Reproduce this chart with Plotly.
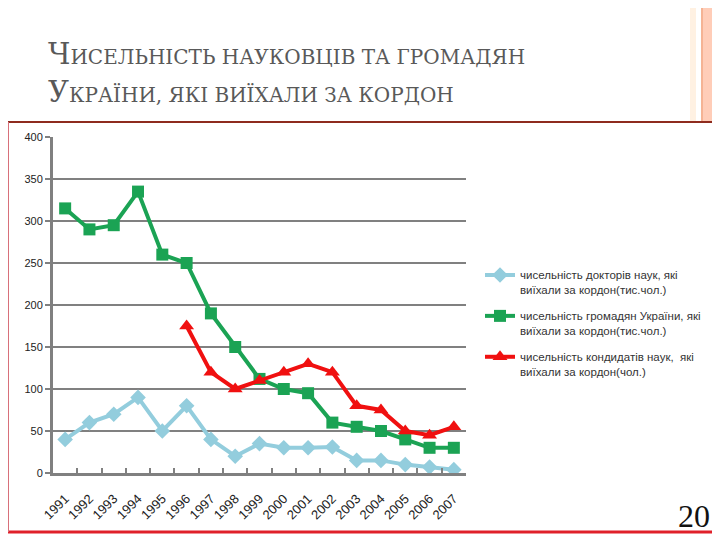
import plotly.graph_objects as go

years = ["1991", "1992", "1993", "1994", "1995", "1996", "1997", "1998", "1999",
         "2000", "2001", "2002", "2003", "2004", "2005", "2006", "2007"]
doctors = [40, 60, 70, 90, 50, 80, 40, 20, 35, 30, 30, 31, 15, 15, 10, 7, 4]
citizens = [315, 290, 295, 335, 260, 250, 190, 150, 112, 100, 95, 60, 55, 50, 40, 30, 30]
candidates = [None, None, None, None, None, 175, 120, 100, 110, 120, 130, 120, 80, 75, 50, 45, 55]

names = [
    "чисельність докторів наук, які<br>виїхали за кордон(тис.чол.)",
    "чисельність громадян України, які<br>виїхали за кордон(тис.чол.)",
    "чисельність кондидатів наук,  які<br>виїхали за кордон(чол.)",
]

# page coordinates (the html body adds an 8px offset)
OFF = 8
L, R, T, B = 53, 466, 137, 473
W, H = 720 - OFF, 540 - OFF


def px(x):
    return (x - L) / (R - L)


def py(y):
    return (B - y) / (B - T)


fig = go.Figure()
fig.add_trace(go.Scatter(x=years, y=doctors, name=names[0], mode="lines+markers", legendgroup="a",
                         line=dict(color="#93CDDD", width=4),
                         marker=dict(symbol="diamond", size=12, color="#93CDDD")))
fig.add_trace(go.Scatter(x=years, y=citizens, name=names[1], mode="lines+markers", legendgroup="b",
                         line=dict(color="#1BA354", width=4),
                         marker=dict(symbol="square", size=12, color="#1BA354")))
fig.add_trace(go.Scatter(x=years, y=candidates, name=names[2], mode="lines+markers", legendgroup="c",
                         line=dict(color="#F01010", width=4),
                         marker=dict(symbol="triangle-up", size=13, color="#F01010"),
                         connectgaps=False))

shapes = []
# right decorative bands at the top of the slide
shapes.append(dict(type="rect", xref="paper", yref="paper", x0=px(703), x1=px(720), y0=py(121), y1=py(OFF),
                   fillcolor="#FFCDB8", line=dict(width=0), layer="below"))
shapes.append(dict(type="rect", xref="paper", yref="paper", x0=px(690), x1=px(696), y0=py(121), y1=py(OFF),
                   fillcolor="#FFF1E2", line=dict(width=0), layer="below"))
shapes.append(dict(type="line", xref="paper", yref="paper", x0=px(702), x1=px(702), y0=py(121), y1=py(OFF),
                   line=dict(color="#F29A70", width=1.5), layer="below"))
# chart frame
shapes.append(dict(type="line", xref="paper", yref="paper", x0=px(OFF), x1=px(718), y0=py(122), y1=py(122),
                   line=dict(color="#8E2B1E", width=2)))
shapes.append(dict(type="line", xref="paper", yref="paper", x0=px(OFF), x1=px(718), y0=py(532), y1=py(532),
                   line=dict(color="#E0202A", width=3)))
shapes.append(dict(type="line", xref="paper", yref="paper", x0=px(OFF + 0.5), x1=px(OFF + 0.5), y0=py(532), y1=py(122),
                   line=dict(color="#D8707A", width=1)))
shapes.append(dict(type="line", xref="paper", yref="paper", x0=px(718), x1=px(718), y0=py(532), y1=py(122),
                   line=dict(color="#F0C8C8", width=1)))

title_font = dict(family="DejaVu Serif", size=20, color="#595959")
annotations = [
    dict(xref="paper", yref="paper", x=px(46), y=py(54), xanchor="left", yanchor="middle",
         text="<span style='font-size:29px'>Ч</span>ИСЕЛЬНІСТЬ НАУКОВЦІВ ТА ГРОМАДЯН",
         showarrow=False, font=title_font),
    dict(xref="paper", yref="paper", x=px(46), y=py(92), xanchor="left", yanchor="middle",
         text="<span style='font-size:29px'>У</span>КРАЇНИ, ЯКІ ВИЇХАЛИ ЗА КОРДОН",
         showarrow=False, font=title_font),
    dict(xref="paper", yref="paper", x=px(712), y=py(516), xanchor="right", yanchor="middle",
         text="20", showarrow=False, font=dict(family="Liberation Serif", size=32, color="#111111")),
]

fig.update_layout(
    width=W, height=H,
    margin=dict(l=L - OFF, r=720 - R, t=T - OFF, b=540 - B),
    paper_bgcolor="white", plot_bgcolor="white",
    showlegend=True,
    legend=dict(x=px(480), y=py(261), xanchor="left", yanchor="top", valign="top",
                font=dict(family="Liberation Sans", size=11.5, color="#333333"),
                bgcolor="rgba(0,0,0,0)", traceorder="grouped", tracegroupgap=8, itemwidth=30),
    shapes=shapes,
    annotations=annotations,
)
fig.update_xaxes(type="category", range=[-0.5, 16.5], showgrid=False,
                 showline=True, linecolor="#808080", linewidth=3,
                 ticks="inside", tickson="boundaries", ticklen=5, tickcolor="#808080", tickwidth=2,
                 tickangle=-45, ticklabelstandoff=10,
                 tickfont=dict(family="Liberation Sans", size=13, color="#222222"))
fig.update_yaxes(range=[0, 400], dtick=50, showgrid=True, gridcolor="#808080", gridwidth=2,
                 showline=True, linecolor="#808080", linewidth=3, zeroline=False,
                 ticks="outside", ticklen=5, tickcolor="#808080", tickwidth=2,
                 tickfont=dict(family="Liberation Sans", size=11, color="#222222"))

fig.write_html("out.html")
